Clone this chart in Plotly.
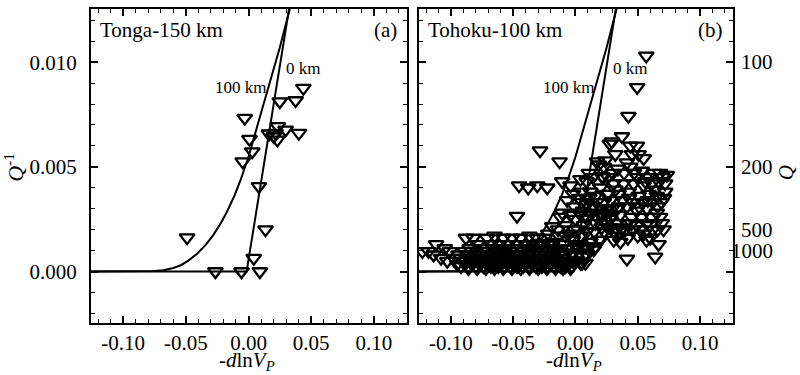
import plotly.graph_objects as go

# ---------------- data ----------------
# Panel (a) Tonga-150 km observations: -dlnVp, Q^-1
tonga_dlnvp = [-0.049, -0.0264, -0.0056, 0.0042, 0.0091, 0.0136, 0.0083, -0.0046, 0.0030, 0.0008,
               -0.0030, 0.0163, 0.0230, 0.0216, 0.0234, 0.0296, 0.0402, 0.0250, 0.0376, 0.0438, 0.0202]
tonga_qinv = [0.00162, 0.0, 0.0, 0.00064, 0.0, 0.00200, 0.00407, 0.00525, 0.00573, 0.00632,
              0.00733, 0.00658, 0.00629, 0.00661, 0.00693, 0.00677, 0.00661, 0.00812, 0.00817, 0.00876, 0.00645]

# Panel (b) Tohoku-100 km observations: (-dlnVp, Q^-1)
tohoku_points = [
    # isolated high values
    (0.0568, 0.0103), (0.0495, 0.0088), (0.0425, 0.00742), (-0.0285, 0.00577), (-0.0128, 0.00525),
    (-0.047, 0.00265),
    (-0.0453, 0.0041), (-0.0380, 0.0040), (-0.0307, 0.0041), (-0.0227, 0.0040),
    # rising band
    (-0.0107, 0.0043), (-0.004, 0.0041), (0.004, 0.0044), (0.0107, 0.0047), (0.0173, 0.00525), (0.0187, 0.0051),
    (-0.0067, 0.0034), (0.0027, 0.0035), (0.012, 0.0038), (0.020, 0.0040), (0.0253, 0.0037), (0.032, 0.0039),
    (-0.0107, 0.0028), (-0.004, 0.0027), (0.0093, 0.0032), (0.0147, 0.0031), (0.0227, 0.0033), (0.0293, 0.0030),
    (0.0093, 0.0025), (0.0173, 0.0026), (0.006, 0.0029), (0.013, 0.0028), (0.020, 0.0027), (0.025, 0.0028),
    (0.028, 0.0025), (-0.008, 0.0022), (-0.0013, 0.0020), (0.0067, 0.0022), (0.028, 0.0021), (0.0333, 0.0020),
    (-0.0134, 0.0017), (-0.004, 0.0016), (0.004, 0.0017), (0.012, 0.0014), (0.0187, 0.0015),
    (-0.028, 0.00136), (-0.020, 0.00127), (-0.012, 0.0009), (-0.004, 0.0008), (0.0027, 0.0009), (0.0093, 0.0008),
    (-0.004, 0.00048), (0.004, 0.0004), (-0.0187, 0.00215), (-0.012, 0.0026), (-0.0053, 0.0018),
    (0.0147, 0.00104), (0.0053, 0.0004), (-0.016, 0.0011), (-0.022, 0.0018), (-0.009, 0.0013), (0.0, 0.0012),
    (0.008, 0.0012), (-0.001, 0.0031), (0.005, 0.0038), (0.009, 0.0043), (0.014, 0.0045), (0.016, 0.0036),
    (0.022, 0.0045), (0.0, 0.0025), (0.003, 0.0028),
    (-0.025, 0.0016), (-0.018, 0.0014), (-0.014, 0.0020), (-0.008, 0.0017), (-0.002, 0.0015), (0.004, 0.0013),
    (0.010, 0.0011), (0.016, 0.0012), (-0.006, 0.0011), (0.002, 0.0020), (0.009, 0.0019), (0.015, 0.0019),
    (0.021, 0.0021), (-0.002, 0.0009), (0.006, 0.0007), (-0.008, 0.0005), (0.0, 0.0005), (0.008, 0.0004),
    (0.005, 0.0033), (0.011, 0.0035), (0.017, 0.0033), (0.021, 0.0030), (0.008, 0.0027), (0.016, 0.0023),
    (0.023, 0.0019), (-0.002, 0.0037),
    # right cluster
    (0.0293, 0.0062), (0.0373, 0.00645), (0.032, 0.0056), (0.044, 0.0060), (0.0493, 0.0060), (0.0453, 0.0056),
    (0.0507, 0.0056), (0.0547, 0.0054), (0.0413, 0.0052), (0.044, 0.0050), (0.0533, 0.0048), (0.0275, 0.0061),
    (0.068, 0.0047), (0.0733, 0.0046), (0.0667, 0.0043), (0.072, 0.0042), (0.0227, 0.0050), (0.0213, 0.00455),
    (0.0307, 0.0042), (0.0387, 0.0042), (0.0467, 0.0042), (0.0547, 0.0041), (0.0613, 0.0042),
    (0.0267, 0.0037), (0.0347, 0.0037), (0.0427, 0.0038), (0.0507, 0.0036), (0.0587, 0.0037), (0.0653, 0.0036),
    (0.072, 0.0038), (0.0253, 0.0030), (0.0333, 0.0030), (0.0413, 0.0031), (0.0493, 0.0029), (0.0573, 0.0030),
    (0.0653, 0.0028), (0.022, 0.0027), (0.027, 0.0025), (0.023, 0.0024),
    (0.0333, 0.0023), (0.0413, 0.0023), (0.0493, 0.0022), (0.0573, 0.0023), (0.0693, 0.0023),
    (0.0307, 0.0019), (0.0387, 0.0019), (0.0453, 0.0020), (0.0547, 0.0018), (0.0707, 0.0020),
    (0.0307, 0.0015), (0.036, 0.0014), (0.060, 0.0016), (0.0667, 0.0013),
    (0.064, 0.0007), (0.0413, 0.0006), (0.020, 0.0015),
    (0.038, 0.0034), (0.046, 0.0033), (0.054, 0.0033), (0.062, 0.0033), (0.069, 0.0033), (0.036, 0.0027),
    (0.045, 0.0026), (0.053, 0.0026), (0.061, 0.0026), (0.068, 0.0026), (0.062, 0.0020), (0.050, 0.0045),
    (0.058, 0.0045), (0.064, 0.0039), (0.039, 0.0047), (0.030, 0.0047), (0.024, 0.0053),
    (0.026, 0.0045), (0.034, 0.0049), (0.047, 0.0047), (0.056, 0.0043), (0.063, 0.0047), (0.070, 0.0045),
    (0.028, 0.0034), (0.035, 0.0031), (0.043, 0.0035), (0.051, 0.0031), (0.058, 0.0034), (0.066, 0.0031),
    (0.071, 0.0035), (0.026, 0.0021), (0.038, 0.0021), (0.045, 0.0023), (0.052, 0.0020), (0.060, 0.0022),
    (0.066, 0.0020), (0.034, 0.0017), (0.042, 0.0016), (0.050, 0.0017), (0.057, 0.0015),
    # low-attenuation band
    (-0.088, 0.0016), (-0.082, 0.0016), (-0.071, 0.0016), (-0.065, 0.0017), (-0.058, 0.0016), (-0.051, 0.0016),
    (-0.044, 0.0016), (-0.037, 0.0017), (-0.031, 0.0016),
    (-0.112, 0.0013), (-0.079, 0.0013), (-0.068, 0.0013), (-0.061, 0.0013), (-0.054, 0.0013), (-0.047, 0.0013),
    (-0.040, 0.0013), (-0.034, 0.0013), (-0.027, 0.0013), (-0.022, 0.0013),
    (-0.105, 0.0011), (-0.085, 0.0011), (-0.073, 0.0011), (-0.066, 0.0011), (-0.060, 0.0011), (-0.055, 0.0011),
    (-0.050, 0.0011), (-0.044, 0.0011), (-0.039, 0.0011), (-0.034, 0.0011), (-0.029, 0.0011), (-0.024, 0.0011),
    (-0.019, 0.0011), (-0.014, 0.0011),
    (-0.123, 0.00096), (-0.118, 0.00096), (-0.101, 0.00096), (-0.089, 0.00096), (-0.083, 0.00096), (-0.076, 0.00096),
    (-0.070, 0.00096), (-0.064, 0.00096), (-0.058, 0.00096), (-0.052, 0.00096), (-0.047, 0.00096), (-0.042, 0.00096),
    (-0.037, 0.00096), (-0.032, 0.00096), (-0.027, 0.00096), (-0.022, 0.00096), (-0.017, 0.00096),
    (-0.114, 0.0008), (-0.094, 0.0008), (-0.087, 0.0008), (-0.081, 0.0008), (-0.075, 0.0008), (-0.069, 0.0008),
    (-0.063, 0.0008), (-0.057, 0.0008), (-0.053, 0.0008), (-0.048, 0.0008), (-0.043, 0.0008), (-0.038, 0.0008),
    (-0.033, 0.0008), (-0.028, 0.0008), (-0.023, 0.0008), (-0.018, 0.0008), (-0.013, 0.0008), (-0.008, 0.0008),
    (-0.108, 0.00064), (-0.098, 0.00064), (-0.092, 0.00064), (-0.086, 0.00064), (-0.080, 0.00064), (-0.074, 0.00064),
    (-0.068, 0.00064), (-0.062, 0.00064), (-0.056, 0.00064), (-0.051, 0.00064), (-0.046, 0.00064), (-0.041, 0.00064),
    (-0.036, 0.00064), (-0.031, 0.00064), (-0.026, 0.00064), (-0.021, 0.00064), (-0.016, 0.00064), (-0.011, 0.00064),
    (-0.103, 0.0005), (-0.090, 0.0005), (-0.084, 0.0005), (-0.078, 0.0005), (-0.072, 0.0005), (-0.066, 0.0005),
    (-0.061, 0.0005), (-0.056, 0.0005), (-0.052, 0.0005), (-0.047, 0.0005), (-0.042, 0.0005), (-0.037, 0.0005),
    (-0.032, 0.0005), (-0.027, 0.0005), (-0.022, 0.0005), (-0.017, 0.0005), (-0.012, 0.0005), (-0.007, 0.0005),
    (-0.002, 0.0005),
    (-0.095, 0.00035), (-0.089, 0.00035), (-0.083, 0.00035), (-0.077, 0.00035), (-0.071, 0.00035), (-0.065, 0.00035),
    (-0.060, 0.00035), (-0.055, 0.00035), (-0.050, 0.00035), (-0.045, 0.00035), (-0.040, 0.00035), (-0.035, 0.00035),
    (-0.030, 0.00035), (-0.025, 0.00035), (-0.020, 0.00035), (-0.015, 0.00035), (-0.010, 0.00035), (-0.006, 0.00035),
    (-0.092, 0.00025), (-0.086, 0.00025), (-0.080, 0.00025), (-0.074, 0.00025), (-0.068, 0.00025), (-0.062, 0.00025),
    (-0.057, 0.00025), (-0.052, 0.00025), (-0.047, 0.00025), (-0.042, 0.00025), (-0.037, 0.00025), (-0.032, 0.00025),
    (-0.027, 0.00025), (-0.022, 0.00025), (-0.017, 0.00025), (-0.012, 0.00025), (-0.008, 0.00025), (-0.003, 0.00025),
    (-0.086, 0.00015), (-0.079, 0.00015), (-0.072, 0.00015), (-0.065, 0.00015), (-0.058, 0.00015), (-0.051, 0.00015),
    (-0.044, 0.00015), (-0.037, 0.00015), (-0.030, 0.00015), (-0.023, 0.00015), (-0.016, 0.00015), (-0.010, 0.00015),
    (-0.004, 0.00015),
]
tohoku_dlnvp = [p[0] for p in tohoku_points]
tohoku_qinv = [p[1] for p in tohoku_points]

# Model curves
curve_100km_x = [-0.126, -0.085, -0.075, -0.068, -0.060, -0.054, -0.048, -0.041, -0.034, -0.028, -0.022,
                 -0.017, -0.011, -0.006, 0.0, 0.008, 0.016, 0.025, 0.0328, 0.036]
curve_100km_y = [0.0, 0.0, 0.00002, 0.00006, 0.00017, 0.0003, 0.00052, 0.00085, 0.00128, 0.00175, 0.00232,
                 0.00288, 0.00365, 0.00442, 0.00548, 0.00715, 0.0088, 0.0107, 0.0125, 0.0132]
curve_0km_x = [-0.126, -0.0015, 0.0355]
curve_0km_y = [0.0, 0.0, 0.0137]

x_tick_vals = [-0.10, -0.05, 0.0, 0.05, 0.10]
x_tick_text = ["-0.10", "-0.05", "0.00", "0.05", "0.10"]
y_tick_vals = [0.0, 0.005, 0.010]
y_tick_text = ["0.000", "0.005", "0.010"]
q_tick_vals = [100, 200, 500, 1000]

panel_titles = ["Tonga-150 km", "Tohoku-100 km"]
panel_tags = ["(a)", "(b)"]

# ---------------- figure ----------------
FONT = "Liberation Serif, Times New Roman, serif"
fig = go.Figure()

marker = dict(symbol="triangle-down-open", size=13, color="black", line=dict(width=2.3, color="black"))
line = dict(color="black", width=2)

# panel a
fig.add_trace(go.Scatter(x=tonga_dlnvp, y=tonga_qinv, mode="markers", marker=marker, xaxis="x", yaxis="y"))
fig.add_trace(go.Scatter(x=curve_100km_x, y=curve_100km_y, mode="lines", line=line, xaxis="x", yaxis="y"))
fig.add_trace(go.Scatter(x=curve_0km_x, y=curve_0km_y, mode="lines", line=line, xaxis="x", yaxis="y"))
# panel b
fig.add_trace(go.Scatter(x=tohoku_dlnvp, y=tohoku_qinv, mode="markers", marker=marker, xaxis="x2", yaxis="y2"))
fig.add_trace(go.Scatter(x=curve_100km_x, y=curve_100km_y, mode="lines", line=line, xaxis="x2", yaxis="y2"))
fig.add_trace(go.Scatter(x=curve_0km_x, y=curve_0km_y, mode="lines", line=line, xaxis="x2", yaxis="y2"))

xrange = [-0.1257, 0.1265]
yrange = [-0.00246, 0.01254]

def xax(domain, anchor):
    return dict(domain=domain, anchor=anchor, range=xrange, tickmode="array", tickvals=x_tick_vals,
                ticktext=x_tick_text, ticks="inside", ticklen=7, tickwidth=1.5, tickcolor="black",
                minor=dict(tickmode="linear", tick0=0, dtick=0.01, ticks="inside", ticklen=4, tickwidth=1.2,
                           tickcolor="black"),
                showline=True, linewidth=2, linecolor="black", mirror="ticks", showgrid=False, zeroline=False,
                tickfont=dict(family=FONT, size=21, color="black"), ticklabelstandoff=0)

def yax(anchor, labels):
    return dict(domain=[0, 1], anchor=anchor, range=yrange, tickmode="array", tickvals=y_tick_vals,
                ticktext=y_tick_text, ticks="inside", ticklen=7, tickwidth=1.5, tickcolor="black",
                minor=dict(tickmode="linear", tick0=0, dtick=0.001, ticks="inside", ticklen=4, tickwidth=1.2,
                           tickcolor="black"),
                showline=True, linewidth=2, linecolor="black", mirror="ticks", showgrid=False, zeroline=False,
                showticklabels=labels, tickfont=dict(family=FONT, size=21, color="black"), ticklabelstandoff=8)

fig.update_layout(
    width=800, height=375, showlegend=False,
    margin=dict(l=91, r=67, t=9, b=52, autoexpand=False),
    plot_bgcolor="white", paper_bgcolor="white",
    font=dict(family=FONT, color="black"),
    xaxis=xax([0, 0.4922], "y"),
    xaxis2=xax([0.5109, 1.0], "y2"),
    yaxis=yax("x", True),
    yaxis2=yax("x2", False),
)

ann = []
for xr, yr, title, tag in [("x", "y", panel_titles[0], panel_tags[0]), ("x2", "y2", panel_titles[1], panel_tags[1])]:
    ann.append(dict(xref=xr + " domain", yref=yr + " domain", x=0.022, y=0.932, text=title, showarrow=False,
                    xanchor="left", yanchor="middle", font=dict(family=FONT, size=21)))
    ann.append(dict(xref=xr + " domain", yref=yr + " domain", x=0.976, y=0.932, text=tag, showarrow=False,
                    xanchor="right", yanchor="middle", font=dict(family=FONT, size=21)))
    ann.append(dict(xref=xr, yref=yr, x=-0.006, y=0.0088, text="100 km", showarrow=False,
                    xanchor="center", yanchor="middle", font=dict(family=FONT, size=17)))
    ann.append(dict(xref=xr, yref=yr, x=0.0435, y=0.0097, text="0 km", showarrow=False,
                    xanchor="center", yanchor="middle", font=dict(family=FONT, size=17)))
    ann.append(dict(xref=xr, yref="paper", x=-0.001, y=-0.122, text="-<i>d</i>ln<i>V</i><sub><i>P</i></sub>",
                    showarrow=False, xanchor="center", yanchor="middle", font=dict(family=FONT, size=21)))

# left y title
ann.append(dict(xref="paper", yref="y", x=-0.12, y=0.005, text="<i>Q</i><sup>-1</sup>", showarrow=False,
                textangle=-90, xanchor="center", yanchor="middle", font=dict(family=FONT, size=22)))
# right Q scale
for q in q_tick_vals:
    ann.append(dict(xref="paper", yref="y2", x=1.0654, y=1.0 / q, text=str(q), showarrow=False,
                    xanchor="right", yanchor="middle", font=dict(family=FONT, size=21)))
ann.append(dict(xref="paper", yref="y2", x=1.0826, y=0.0047, text="<i>Q</i>", showarrow=False,
                textangle=-90, xanchor="center", yanchor="middle", font=dict(family=FONT, size=21)))

fig.update_layout(annotations=ann)
fig.write_html("out.html", config={"displayModeBar": False},
               post_script="document.body.style.margin='0';")
